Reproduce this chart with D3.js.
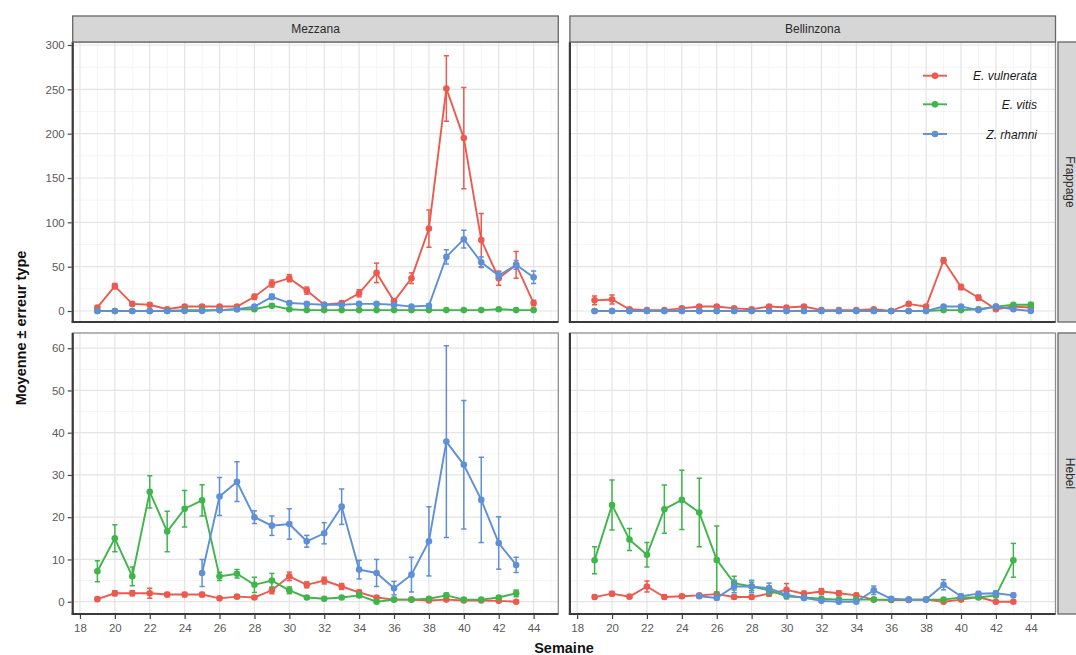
<!DOCTYPE html>
<html><head><meta charset="utf-8">
<script src="https://cdn.jsdelivr.net/npm/d3@7"></script>
<style>body{margin:0;background:#fff}svg{display:block}text{font-family:"Liberation Sans",Arial,sans-serif}</style>
</head><body><svg id="c" width="1076" height="655"></svg>
<script>
// ---------- data ----------
const sites = ["Mezzana", "Bellinzona"];
const methods = ["Frappage", "Hebel"];
const species = ["E. vulnerata", "E. vitis", "Z. rhamni"];
const colors = ["#ec5a4f", "#3fb54b", "#5f8fd6"];
const weeksFrap = d3.range(19, 45);      // 19..44
const weeksHebel = d3.range(19, 44);     // 19..43
const weeksHebelZr = d3.range(25, 44);   // 25..43
const xTicks = [18,20,22,24,26,28,30,32,34,36,38,40,42,44];
const yTicksFrap = [0,50,100,150,200,250,300];
const yTicksHebel = [0,10,20,30,40,50,60];

// Mezzana - Frappage
const mezFrapEv = [4,28,8,7,2,5,5,5,5,16,31,37,23,7,9,20,43,11,37,93,251,195,80,37,52,9];
const mezFrapEvSe = [2,3,2,2,1,2,2,2,2,3,4,4,4,2,2,4,11,3,6,21,37,57,30,8,15,3];
const mezFrapEt = [0,0,0,0,0,1,1,1,2,2,6,2,1,1,1,1,1,1,1,1,1,1,1,2,1,1];
const mezFrapEtSe = [0.5,0.5,0.5,0.5,0.5,0.5,0.5,0.5,1,1,1.5,1,0.5,0.5,0.5,0.5,0.5,0.5,0.5,0.5,0.5,0.5,0.5,1,0.5,0.5];
const mezFrapZr = [0,0,0,0,0,0,0,1,2,5,16,9,8,7,7,8,8,7,5,6,61,81,55,40,52,38];
const mezFrapZrSe = [0.5,0.5,0.5,0.5,0.5,0.5,0.5,1,1,1.5,3,2,2,1.5,1.5,2,2,1.5,1,1.5,8,10,6,4,5,7];
// Bellinzona - Frappage
const belFrapEv = [12,13,2,1,1,3,5,5,3,2,5,4,5,1,1,1,2,0,8,5,57,27,15,2,5,4];
const belFrapEvSe = [5,5,1,0.5,0.5,1,1.5,1.5,1,1,1.5,1,1.5,0.5,0.5,0.5,1,0.5,2,1.5,3,3,3,1,1.5,1];
const belFrapEt = [0,0,0,0,0,0,0,0,0,0,0,0,0,0,0,0,0,0,0,0,1,1,2,5,7,7];
const belFrapEtSe = [0.3,0.3,0.3,0.3,0.3,0.3,0.3,0.3,0.3,0.3,0.3,0.3,0.3,0.3,0.3,0.3,0.3,0.3,0.3,0.3,0.5,0.5,1,1.5,2,2.5];
const belFrapZr = [0,0,0,0,0,0,0,0,0,0,0,0,0,0,0,0,0,0,0,0,5,5,1,5,2,0];
const belFrapZrSe = [0.3,0.3,0.3,0.3,0.3,0.3,0.3,0.3,0.3,0.3,0.3,0.3,0.3,0.3,0.3,0.3,0.3,0.3,0.3,0.3,1.5,1.5,0.5,1.5,1,0.3];
// Mezzana - Hebel
const mezHebEv = [0.6,2,2,2,1.7,1.7,1.7,0.8,1.2,1,2.7,6,4,5,3.6,2.2,1,0.5,0.5,0.3,0.5,0.3,0.3,0.2,0];
const mezHebEvSe = [0.4,0.6,0.6,1.2,0.5,0.5,0.5,0.4,0.4,0.4,0.8,1,0.7,0.8,0.7,0.5,0.4,0.3,0.3,0.2,0.3,0.2,0.2,0.2,0.1];
const mezHebEt = [7.2,15,6,26,16.6,22,24,6,6.6,4,5,2.7,1,0.7,1,1.5,0,0.5,0.5,0.7,1.5,0.5,0.5,1,2];
const mezHebEtSe = [2.5,3.2,2.2,3.8,4.8,4.3,3.7,1,1,1.8,1.7,0.8,0.4,0.3,0.4,0.5,0.3,0.3,0.3,0.3,0.5,0.3,0.3,0.4,0.8];
const mezHebZr = [6.8,24.9,28.4,20,18,18.4,14.3,16.2,22.5,7.6,6.8,3.2,6.4,14.3,37.9,32.4,24.1,13.9,8.7];
const mezHebZrSe = [3.2,4.5,4.7,1.5,2.3,3.6,1.4,2.5,4.2,2.2,3.2,1.6,4.1,8.2,22.7,15.2,10.1,6.2,1.8];
// Bellinzona - Hebel
const belHebEv = [1.1,1.9,1.2,3.6,1.1,1.3,1.5,1.8,1.1,1.1,1.9,2.8,1.9,2.4,2,1.5,0.5,0.4,0.4,0.5,0,0.5,1.1,0,0];
const belHebEvSe = [0.4,0.5,0.4,1.3,0.4,0.4,0.4,0.5,0.4,0.4,0.6,1.5,0.6,0.7,0.6,0.5,0.3,0.2,0.2,0.3,0.1,0.3,0.4,0.2,0.1];
const belHebEt = [9.8,22.9,14.7,11.1,21.9,24.1,21.1,9.9,4.4,3.6,2.7,1.3,1,0.7,0.5,0.5,0.5,0.5,0.5,0.5,0.5,1,1,1.5,9.8];
const belHebEtSe = [3.2,5.9,2.6,2.9,5.7,7,8.1,8,1.6,1,1,0.6,0.4,0.3,0.3,0.3,0.3,0.3,0.3,0.3,0.3,0.4,0.4,0.5,4];
const belHebZr = [1.3,0.9,3.6,3.6,3.2,1.6,0.9,0.2,0,0,2.7,0.7,0.5,0.5,4,1.3,1.9,2,1.5];
const belHebZrSe = [0.5,0.4,1.5,1.5,1.2,0.6,0.4,0.2,0.1,0.1,1,0.3,0.2,0.2,1.2,0.5,0.5,0.6,0.5];

// ---------- panels ----------
const panels = [
  {site:0, method:0, series:[[weeksFrap,mezFrapEv,mezFrapEvSe],[weeksFrap,mezFrapEt,mezFrapEtSe],[weeksFrap,mezFrapZr,mezFrapZrSe]]},
  {site:1, method:0, series:[[weeksFrap,belFrapEv,belFrapEvSe],[weeksFrap,belFrapEt,belFrapEtSe],[weeksFrap,belFrapZr,belFrapZrSe]]},
  {site:0, method:1, series:[[weeksHebel,mezHebEv,mezHebEvSe],[weeksHebel,mezHebEt,mezHebEtSe],[weeksHebelZr,mezHebZr,mezHebZrSe]]},
  {site:1, method:1, series:[[weeksHebel,belHebEv,belHebEvSe],[weeksHebel,belHebEt,belHebEtSe],[weeksHebelZr,belHebZr,belHebZrSe]]}
];

const colX = [[72.7, 558.3], [569.9, 1055.5]];
const rowY = [[42, 322], [333, 614]];
const xDomain = [17.585, 45.415];
const yDomains = [[-12.4, 303.4], [-2.91, 63.6]];
const yTickSets = [yTicksFrap, yTicksHebel];
const yMinor = [d3.range(25, 301, 50), d3.range(5, 61, 10)];

const svg = d3.select("#c");
const ff = '"Liberation Sans", Arial, sans-serif';

panels.forEach(p => {
  const [x0, x1] = colX[p.site];
  const [y0, y1] = rowY[p.method];
  const x = d3.scaleLinear().domain(xDomain).range([x0, x1]);
  const y = d3.scaleLinear().domain(yDomains[p.method]).range([y1, y0]);
  const g = svg.append("g");
  g.append("rect").attr("x", x0).attr("y", y0).attr("width", x1 - x0).attr("height", y1 - y0).attr("fill", "#fff");
  // minor grid
  g.selectAll(".mx").data(d3.range(19, 46, 2)).join("line")
    .attr("x1", d => x(d)).attr("x2", d => x(d)).attr("y1", y0).attr("y2", y1)
    .attr("stroke", "#f3f3f3").attr("stroke-width", 0.8);
  g.selectAll(".my").data(yMinor[p.method]).join("line")
    .attr("y1", d => y(d)).attr("y2", d => y(d)).attr("x1", x0).attr("x2", x1)
    .attr("stroke", "#f3f3f3").attr("stroke-width", 0.8);
  // major grid
  g.selectAll(".gx").data(xTicks).join("line")
    .attr("x1", d => x(d)).attr("x2", d => x(d)).attr("y1", y0).attr("y2", y1)
    .attr("stroke", "#e4e4e4").attr("stroke-width", 1.2);
  g.selectAll(".gy").data(yTickSets[p.method]).join("line")
    .attr("y1", d => y(d)).attr("y2", d => y(d)).attr("x1", x0).attr("x2", x1)
    .attr("stroke", "#e4e4e4").attr("stroke-width", 1.2);

  const clip = "clip" + p.site + p.method;
  svg.append("clipPath").attr("id", clip).append("rect")
    .attr("x", x0).attr("y", y0).attr("width", x1 - x0).attr("height", y1 - y0);
  const dg = g.append("g").attr("clip-path", `url(#${clip})`);

  p.series.forEach((s, si) => {
    const [wk, vals, se] = s;
    const pts = wk.map((w, i) => ({w, v: vals[i], e: se[i]}));
    const col = colors[si];
    const sg = dg.append("g");
    // error bars
    sg.selectAll(".ev").data(pts).join("line")
      .attr("x1", d => x(d.w)).attr("x2", d => x(d.w))
      .attr("y1", d => y(d.v - d.e)).attr("y2", d => y(d.v + d.e))
      .attr("stroke", col).attr("stroke-width", 1.5);
    [-1, 1].forEach(sg2 => {
      sg.selectAll(".cap" + sg2).data(pts).join("line")
        .attr("x1", d => x(d.w - 0.15)).attr("x2", d => x(d.w + 0.15))
        .attr("y1", d => y(d.v + sg2 * d.e)).attr("y2", d => y(d.v + sg2 * d.e))
        .attr("stroke", col).attr("stroke-width", 1.5);
    });
    sg.append("path").datum(pts)
      .attr("d", d3.line().x(d => x(d.w)).y(d => y(d.v)))
      .attr("fill", "none").attr("stroke", col).attr("stroke-width", 1.9);
    sg.selectAll("circle").data(pts).join("circle")
      .attr("cx", d => x(d.w)).attr("cy", d => y(d.v)).attr("r", 3.3).attr("fill", col);
  });

  // border
  g.append("rect").attr("x", x0).attr("y", y0).attr("width", x1 - x0).attr("height", y1 - y0)
    .attr("fill", "none").attr("stroke", "#8f8f8f").attr("stroke-width", 1.3);
  // axis lines
  g.append("line").attr("x1", x0).attr("x2", x0).attr("y1", y0).attr("y2", y1 + 1)
    .attr("stroke", "#3a3a3a").attr("stroke-width", 2.2);
  g.append("line").attr("x1", x0 - 1).attr("x2", x1).attr("y1", y1).attr("y2", y1)
    .attr("stroke", "#3a3a3a").attr("stroke-width", 2.2);

  // y axis (left column only)
  if (p.site === 0) {
    const ya = d3.axisLeft(y).tickValues(yTickSets[p.method]).tickSize(4).tickPadding(3);
    const ag = svg.append("g").attr("transform", `translate(${x0 - 1},0)`).call(ya);
    ag.select(".domain").remove();
    ag.selectAll("line").attr("stroke", "#444").attr("stroke-width", 1.2);
    ag.selectAll("text").attr("fill", "#5a5a5a").attr("font-size", 11.5).attr("font-family", ff);
  }
  // x axis (bottom row only)
  if (p.method === 1) {
    const xa = d3.axisBottom(x).tickValues(xTicks).tickSize(4).tickPadding(5);
    const ag = svg.append("g").attr("transform", `translate(0,${y1 + 1})`).call(xa);
    ag.select(".domain").remove();
    ag.selectAll("line").attr("stroke", "#444").attr("stroke-width", 1.2);
    ag.selectAll("text").attr("fill", "#5a5a5a").attr("font-size", 11.5).attr("font-family", ff);
  }
});

// top strips
sites.forEach((s, i) => {
  const [x0, x1] = colX[i];
  svg.append("rect").attr("x", x0).attr("y", 16).attr("width", x1 - x0).attr("height", 26)
    .attr("fill", "#d6d6d6").attr("stroke", "#666").attr("stroke-width", 1.3);
  svg.append("text").attr("x", (x0 + x1) / 2).attr("y", 33).attr("text-anchor", "middle")
    .attr("font-size", 12).attr("fill", "#2a2a2a").text(s);
});
// right strips
methods.forEach((m, i) => {
  const [y0, y1] = rowY[i];
  svg.append("rect").attr("x", 1058).attr("y", y0).attr("width", 26).attr("height", y1 - y0)
    .attr("fill", "#d6d6d6").attr("stroke", "#666").attr("stroke-width", 1.3);
  svg.append("text").attr("transform", `translate(1066,${(y0 + y1) / 2}) rotate(90)`)
    .attr("text-anchor", "middle").attr("font-size", 12).attr("fill", "#2a2a2a").text(m);
});

// legend
const legRows = [75.7, 104.3, 134];
species.forEach((s, i) => {
  const ly = legRows[i];
  svg.append("line").attr("x1", 923).attr("x2", 947).attr("y1", ly).attr("y2", ly)
    .attr("stroke", colors[i]).attr("stroke-width", 1.9);
  svg.append("line").attr("x1", 935).attr("x2", 935).attr("y1", ly - 3).attr("y2", ly + 3)
    .attr("stroke", colors[i]).attr("stroke-width", 1.4);
  svg.append("circle").attr("cx", 935).attr("cy", ly).attr("r", 3.3).attr("fill", colors[i]);
  svg.append("text").attr("x", 1037).attr("y", ly + 4.5).attr("text-anchor", "end")
    .attr("font-size", 12).attr("font-style", "italic").attr("fill", "#1a1a1a").text(s);
});

// axis titles
svg.append("text").attr("transform", "translate(26,328) rotate(-90)").attr("text-anchor", "middle")
  .attr("font-size", 14.5).attr("font-weight", "bold").attr("fill", "#111").text("Moyenne ± erreur type");
svg.append("text").attr("x", 564).attr("y", 653).attr("text-anchor", "middle")
  .attr("font-size", 14.5).attr("font-weight", "bold").attr("fill", "#111").text("Semaine");
</script></body></html>
